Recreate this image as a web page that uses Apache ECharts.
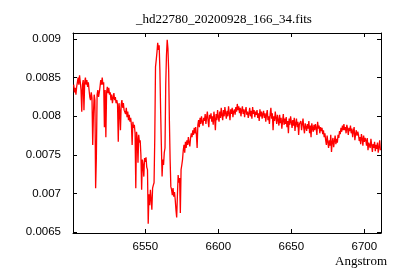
<!DOCTYPE html>
<html>
<head>
<meta charset="utf-8">
<script src="https://cdn.jsdelivr.net/npm/echarts@6/dist/echarts.min.js"></script>
<style>html,body{margin:0;padding:0;background:#fff}#c{width:400px;height:280px}</style>
</head>
<body>
<div id="c"></div>
<script>
const chartTitle = '_hd22780_20200928_166_34.fits';
const xAxisTitle = 'Angstrom';
// wavelength sampling of the spectrum (Angstrom)
const wavelengthStart = 6501;
const wavelengthStep = 0.5;
// flux values, one per sample
const flux = [
0.00841,0.00831,0.00837,0.00828,0.00838,0.00844,0.00850,0.00841,0.00853,0.00844,
0.00834,0.00806,0.00841,0.00847,0.00808,0.00844,0.00850,0.00841,0.00847,0.00838,
0.00844,0.00834,0.00825,0.00821,0.00831,0.00824,0.00763,0.00803,0.00828,0.00821,
0.00707,0.00747,0.00828,0.00834,0.00825,0.00831,0.00838,0.00847,0.00841,0.00850,
0.00841,0.00844,0.00786,0.00834,0.00773,0.00831,0.00838,0.00830,0.00837,0.00828,
0.00831,0.00821,0.00828,0.00817,0.00824,0.00830,0.00821,0.00825,0.00817,0.00821,
0.00815,0.00767,0.00817,0.00808,0.00782,0.00815,0.00821,0.00811,0.00817,0.00808,
0.00810,0.00803,0.00811,0.00799,0.00806,0.00795,0.00802,0.00793,0.00798,0.00789,
0.00763,0.00793,0.00785,0.00789,0.00778,0.00707,0.00780,0.00772,0.00740,0.00776,
0.00766,0.00769,0.00750,0.00705,0.00744,0.00737,0.00722,0.00746,0.00741,0.00747,
0.00734,0.00731,0.00661,0.00699,0.00685,0.00705,0.00692,0.00679,0.00707,0.00711,
0.00714,0.00773,0.00864,0.00873,0.00883,0.00895,0.00886,0.00892,0.00860,0.00808,
0.00763,0.00722,0.00744,0.00737,0.00753,0.00759,0.00841,0.00879,0.00899,0.00888,
0.00860,0.00795,0.00744,0.00709,0.00705,0.00698,0.00707,0.00696,0.00702,0.00692,
0.00679,0.00669,0.00698,0.00724,0.00714,0.00720,0.00675,0.00731,0.00737,0.00744,
0.00756,0.00763,0.00753,0.00767,0.00759,0.00769,0.00763,0.00773,0.00766,0.00761,
0.00772,0.00778,0.00773,0.00782,0.00776,0.00785,0.00778,0.00786,0.00776,0.00759,
0.00789,0.00795,0.00786,0.00798,0.00790,0.00800,0.00793,0.00788,0.00798,0.00794,
0.00803,0.00790,0.00799,0.00806,0.00794,0.00786,0.00802,0.00797,0.00804,0.00793,
0.00800,0.00789,0.00806,0.00797,0.00782,0.00803,0.00795,0.00808,0.00799,0.00793,
0.00806,0.00798,0.00811,0.00802,0.00795,0.00808,0.00800,0.00812,0.00804,0.00797,
0.00807,0.00800,0.00813,0.00804,0.00795,0.00809,0.00803,0.00811,0.00799,0.00806,
0.00809,0.00802,0.00812,0.00806,0.00816,0.00808,0.00813,0.00804,0.00811,0.00800,
0.00808,0.00813,0.00803,0.00809,0.00799,0.00807,0.00812,0.00802,0.00806,0.00798,
0.00804,0.00811,0.00800,0.00807,0.00797,0.00812,0.00803,0.00808,0.00799,0.00806,
0.00802,0.00808,0.00798,0.00804,0.00794,0.00809,0.00800,0.00806,0.00797,0.00803,
0.00807,0.00798,0.00804,0.00793,0.00802,0.00808,0.00795,0.00800,0.00790,0.00803,
0.00811,0.00797,0.00804,0.00782,0.00800,0.00794,0.00806,0.00798,0.00790,0.00802,
0.00795,0.00788,0.00802,0.00791,0.00798,0.00784,0.00794,0.00803,0.00789,0.00797,
0.00790,0.00799,0.00786,0.00794,0.00778,0.00797,0.00789,0.00800,0.00793,0.00785,
0.00795,0.00788,0.00798,0.00781,0.00791,0.00797,0.00786,0.00793,0.00776,0.00790,
0.00788,0.00794,0.00782,0.00790,0.00797,0.00785,0.00778,0.00791,0.00786,0.00781,
0.00790,0.00784,0.00794,0.00778,0.00788,0.00773,0.00791,0.00785,0.00780,0.00789,
0.00782,0.00790,0.00785,0.00776,0.00793,0.00784,0.00788,0.00778,0.00786,0.00781,
0.00785,0.00777,0.00782,0.00773,0.00778,0.00769,0.00763,0.00775,0.00767,0.00759,
0.00769,0.00762,0.00776,0.00754,0.00767,0.00772,0.00760,0.00768,0.00775,0.00764,
0.00771,0.00766,0.00776,0.00772,0.00781,0.00777,0.00785,0.00780,0.00788,0.00782,
0.00790,0.00782,0.00786,0.00778,0.00789,0.00784,0.00776,0.00785,0.00781,0.00788,
0.00778,0.00784,0.00773,0.00781,0.00786,0.00769,0.00777,0.00782,0.00775,0.00780,
0.00776,0.00768,0.00773,0.00764,0.00777,0.00771,0.00762,0.00775,0.00767,0.00772,
0.00769,0.00762,0.00772,0.00756,0.00766,0.00768,0.00759,0.00771,0.00763,0.00754,
0.00764,0.00759,0.00767,0.00755,0.00763,0.00758,0.00766,0.00753,0.00760,0.00769,0.00756
];
const xTickValues = [6550, 6600, 6650, 6700];
const xTickLabels = ['6550', '6600', '6650', '6700'];
const yTickValues = [0.0065, 0.007, 0.0075, 0.008, 0.0085, 0.009];
const yTickLabels = ['0.0065', '0.007', '0.0075', '0.008', '0.0085', '0.009'];

const seriesData = flux.map((f, i) => [wavelengthStart + i * wavelengthStep, f]);

function labelFor(values, labels, v) {
  let best = 0;
  for (let i = 1; i < values.length; i++) {
    if (Math.abs(values[i] - v) < Math.abs(values[best] - v)) best = i;
  }
  return labels[best];
}

const X_MIN = 6500.5, X_MAX = 6711.4;
const Y_MIN = 0.00649, Y_MAX = 0.009078;
const labelFont = { fontFamily: 'Liberation Sans', fontSize: 11.5, color: '#000' };
const axisLine = { show: true, lineStyle: { color: '#000', width: 1 } };

function xAxis(pos, showLabel) {
  return {
    type: 'value', position: pos, min: X_MIN, max: X_MAX,
    axisLine: axisLine,
    axisTick: { show: true, inside: true, length: 4, customValues: xTickValues, lineStyle: { color: '#000' } },
    axisLabel: Object.assign({ show: showLabel, customValues: xTickValues, margin: 8,
      formatter: v => labelFor(xTickValues, xTickLabels, v) }, labelFont),
    splitLine: { show: false }
  };
}
function yAxis(pos, showLabel) {
  return {
    type: 'value', position: pos, min: Y_MIN, max: Y_MAX,
    axisLine: axisLine,
    axisTick: { show: true, inside: true, length: 4, customValues: yTickValues, lineStyle: { color: '#000' } },
    axisLabel: Object.assign({ show: showLabel, customValues: yTickValues, margin: 12,
      formatter: v => labelFor(yTickValues, yTickLabels, v) }, labelFont),
    splitLine: { show: false }
  };
}

const chart = echarts.init(document.getElementById('c'), null, { renderer: 'canvas' });
chart.setOption({
  animation: false,
  backgroundColor: '#fff',
  grid: { left: 73, top: 33, width: 308, height: 200, containLabel: false },
  xAxis: [xAxis('bottom', true), xAxis('top', false)],
  yAxis: [yAxis('left', true), yAxis('right', false)],
  graphic: [
    { type: 'text', x: 224, y: 20, style: { text: chartTitle, textAlign: 'center', textVerticalAlign: 'middle',
      fontFamily: 'Liberation Serif', fontSize: 13, fill: '#000' } },
    { type: 'text', x: 387, y: 262, style: { text: xAxisTitle, textAlign: 'right', textVerticalAlign: 'middle',
      fontFamily: 'Liberation Serif', fontSize: 13, fill: '#000' } }
  ],
  series: [{
    type: 'line', xAxisIndex: 0, yAxisIndex: 0, data: seriesData,
    showSymbol: false, symbol: 'none',
    lineStyle: { color: '#ff0000', width: 1.3 },
    emphasis: { disabled: true }
  }]
});
</script>
</body>
</html>
